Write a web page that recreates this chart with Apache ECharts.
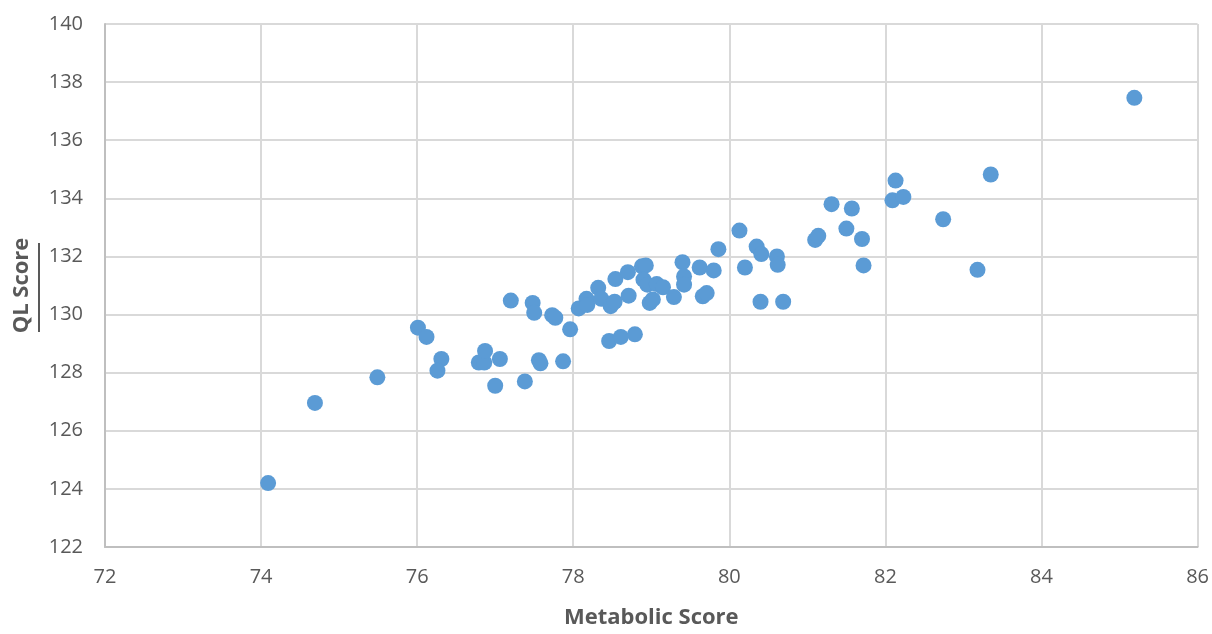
<!DOCTYPE html>
<html>
<head>
<meta charset="utf-8">
<script src="https://cdn.jsdelivr.net/npm/echarts@6/dist/echarts.min.js"></script>
<style>html,body{margin:0;padding:0;background:#fff;}#c{width:1212px;height:634px;}</style>
</head>
<body>
<div id="c"></div>
<script>
const metabolic = [74.09,74.69,75.49,76.01,76.12,76.31,76.26,76.79,76.86,76.87,77.06,77.0,77.2,77.48,77.5,77.38,77.56,77.58,77.73,77.77,77.96,77.87,78.07,
  78.17,78.18,78.32,78.36,78.48,78.53,78.46,78.61,78.79,78.54,78.7,78.71,78.88,78.93,78.9,78.95,78.98,79.02,79.07,79.15,79.29,79.4,79.42,79.42,79.62,79.66,79.71,79.8,79.86,
  80.13,80.2,80.35,80.41,80.4,80.61,80.62,80.69,81.1,81.14,81.5,81.31,81.57,81.7,81.72,82.13,82.09,82.23,82.74,83.18,83.35,85.19];
const qlScore = [124.2,126.96,127.84,129.55,129.23,128.47,128.07,128.35,128.35,128.75,128.47,127.55,130.48,130.4,130.06,127.7,128.43,128.32,129.98,129.89,129.49,128.39,130.21,
  130.54,130.33,130.92,130.54,130.29,130.44,129.09,129.23,129.32,131.22,131.46,130.65,131.66,131.69,131.2,131.03,130.4,130.52,131.05,130.94,130.6,131.8,131.31,131.03,131.62,130.63,130.74,131.52,132.25,
  132.89,131.62,132.34,132.08,130.44,132.0,131.71,130.44,132.57,132.71,132.96,133.8,133.65,132.6,131.69,134.61,133.93,134.05,133.28,131.54,134.82,137.46];
const xTitle = 'Metabolic Score';
const yTitle = 'QL Score';

const points = metabolic.map((x, i) => [x, qlScore[i]]);
const chart = echarts.init(document.getElementById('c'));
const font = 'Open Sans';
chart.setOption({
  animation: false,
  grid: {left: 105, right: 12, top: 24, bottom: 83},
  xAxis: {
    type: 'value', min: 72, max: 86, interval: 2,
    name: xTitle, nameLocation: 'middle', nameGap: 60,
    nameTextStyle: {fontFamily: font, fontSize: 22, fontWeight: 'bold', color: '#595959'},
    axisLine: {show: true, lineStyle: {color: '#BFBFBF', width: 2}},
    axisTick: {show: false},
    axisLabel: {fontFamily: font, fontSize: 20, color: '#595959', margin: 20},
    splitLine: {show: true, lineStyle: {color: '#D9D9D9', width: 2}}
  },
  yAxis: {
    type: 'value', min: 122, max: 140, interval: 2,
    name: yTitle, nameLocation: 'middle', nameGap: 72, nameRotate: 90,
    nameTextStyle: {fontFamily: font, fontSize: 22, fontWeight: 'bold', color: '#595959'},
    axisLine: {show: true, lineStyle: {color: '#BFBFBF', width: 2}},
    axisTick: {show: false},
    axisLabel: {fontFamily: font, fontSize: 20, color: '#595959', margin: 22},
    splitLine: {show: true, lineStyle: {color: '#D9D9D9', width: 2}}
  },
  series: [{
    type: 'scatter', data: points, symbolSize: 16,
    itemStyle: {color: '#5B9BD5', opacity: 1}
  }],
  graphic: [{
    type: 'line', shape: {x1: 39, y1: 243, x2: 39, y2: 332},
    style: {stroke: '#595959', lineWidth: 2}
  }]
});
</script>
</body>
</html>
